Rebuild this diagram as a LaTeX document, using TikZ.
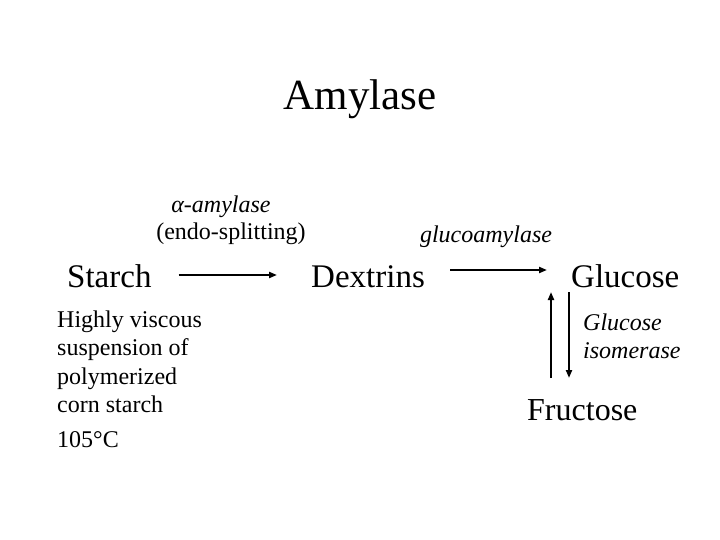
\documentclass[tikz,border=0pt]{standalone}
\usepackage{fontspec}
\setmainfont{Liberation Serif}
\usetikzlibrary{arrows.meta,calc}

\begin{document}
\begin{tikzpicture}[
    x=1pt, y=-1pt,
    big/.style={inner sep=0pt, anchor=base west, font=\fontsize{33}{40}\selectfont},
    small/.style={inner sep=0pt, align=left, font=\fontsize{24}{28.5}\selectfont},
    enz/.style={inner sep=0pt, align=left, font=\fontsize{24}{28.5}\selectfont\itshape},
    arr/.style={-{Triangle[length=8pt,width=6pt]}, line width=2pt}
]
  \useasboundingbox (0,0) rectangle (720,540);

  \node[inner sep=0pt, anchor=base, font=\fontsize{43}{50}\selectfont] (title) at (360,110) {Amylase};

  \node[big] (starch) at (67,287) {Starch};
  \node[big] (dextrins) at (311,287) {Dextrins};
  \node[big] (glucose) at (571,287) {Glucose};
  \node[big, font=\fontsize{32}{40}\selectfont] (fructose) at (527,420) {Fructose};

  \node[enz, anchor=base] (alpha) at (221,213) {α-amylase};
  \node[small, anchor=base] (endo) at (231,240) {(endo-splitting)};
  \node[enz, anchor=base] (gluco) at (486,242) {glucoamylase};
  \node[enz, anchor=north west] (isom) at (583,313.6) {Glucose\\isomerase};

  \node[small, anchor=north west] (cond) at (57,310.5) {Highly viscous\\suspension of\\polymerized\\corn starch};
  \node[small, anchor=base west] (temp) at (57,447) {105°C};

  \draw[arr] ($(starch.base east)+(27,-12)$) -- ($(dextrins.base west)+(-34,-12)$);
  \draw[arr] ($(dextrins.base east)+(25,-17)$) -- ($(glucose.base west)+(-24,-17)$);
  \draw[arr] ($(fructose.base west)+(24,-42)$) -- ($(glucose.base west)+(-20,5)$);
  \draw[arr] ($(glucose.base west)+(-2,5)$) -- ($(fructose.base west)+(42,-42)$);
\end{tikzpicture}
\end{document}
